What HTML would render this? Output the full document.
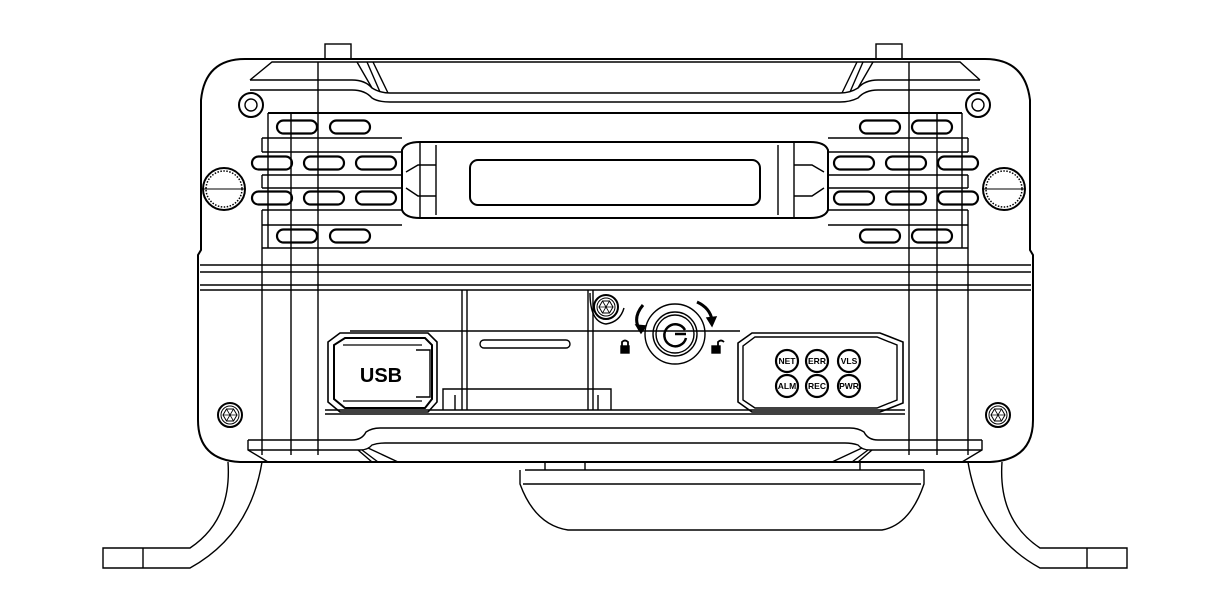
<!DOCTYPE html>
<html><head><meta charset="utf-8"><style>
html,body{margin:0;padding:0;background:#fff;}
svg{display:block}
text{font-family:"Liberation Sans",sans-serif;font-weight:bold;}
</style></head><body>
<svg width="1207" height="597" viewBox="0 0 1207 597" xmlns="http://www.w3.org/2000/svg">
<defs>
<g id="slot"><rect x="0" y="-6.5" width="40" height="13" rx="6.5" fill="none" stroke="#000" stroke-width="2.2"/></g>
<g id="screw"><circle r="12" fill="none" stroke="#000" stroke-width="2"/><circle r="9" fill="none" stroke="#000" stroke-width="1"/><polygon points="-7,0 -3.5,-6 3.5,-6 7,0 3.5,6 -3.5,6" fill="none" stroke="#000" stroke-width="1"/><path d="M-7,0H7M-3.5,-6L3.5,6M3.5,-6L-3.5,6" stroke="#000" stroke-width="0.8"/></g>
<g id="led"><circle r="11" fill="none" stroke="#000" stroke-width="2.2"/></g>
</defs>
<g fill="none" stroke="#000" stroke-width="1.4">
<!-- top tabs -->
<rect x="325" y="44" width="26" height="15"/>
<rect x="876" y="44" width="26" height="15"/>
<!-- outer body -->
<path d="M245,59 H985 Q1025,59 1030,100 L1030,250 L1033,255 V420 Q1033,460 990,462 H240 Q198,460 198,420 V255 L201,250 V100 Q205,59 245,59 Z" stroke-width="2"/>
<!-- top bevel -->
<path d="M250,80 L272,62 H960 L980,80"/>
<path d="M250,80 H352 Q365,80 372,88 Q380,93 390,93 H840 Q850,93 858,88 Q865,80 878,80 H980"/>
<path d="M250,90 H352 Q365,90 372,98 Q378,102 390,102 H840 Q850,102 858,98 Q865,90 878,90 H980"/>
<path d="M357,62 L372,88 M367,62 L380,92 M373,62 L388,93"/>
<path d="M873,62 L858,88 M863,62 L850,92 M857,62 L842,93"/>
<line x1="268" y1="113" x2="962" y2="113" stroke-width="2"/>
<!-- top screws -->
<circle cx="251" cy="105" r="12" stroke-width="2"/><circle cx="251" cy="105" r="6"/>
<circle cx="978" cy="105" r="12" stroke-width="2"/><circle cx="978" cy="105" r="6"/>
<!-- fin bands -->
<path d="M262,138 H402 M262,152 H402 M262,138 V152"/>
<path d="M262,175 H402 M262,188 H402 M262,175 V188"/>
<path d="M262,210 H402 M262,225 H402 M262,210 V225"/>
<path d="M828,138 H968 M828,152 H968 M968,138 V152"/>
<path d="M828,175 H968 M828,188 H968 M968,175 V188"/>
<path d="M828,210 H968 M828,225 H968 M968,210 V225"/>
<path d="M262,248 H968"/>
<!-- vertical guide lines -->
<path d="M268,113 V248 M291,113 V455 M318,62 V455 M909,62 V455 M937,113 V455 M962,113 V248"/>
<path d="M262,225 V455 M968,225 V455"/>
<!-- latch -->
<path d="M402,150 Q405,142 420,142 H810 Q825,142 828,150 V210 Q825,218 810,218 H420 Q405,218 402,210 Z" stroke-width="2"/>
<rect x="470" y="160" width="290" height="45" rx="8" stroke-width="2"/>
<path d="M420,142 V218 M436,145 V215 M794,142 V218 M778,145 V215"/>
<path d="M406,172 L418,165 H436 M406,188 L418,196 H436"/>
<path d="M824,172 L812,165 H794 M824,188 L812,196 H794"/>
<!-- horizontal bands -->
<path d="M200,265 H1031 M200,272 H1031" stroke-width="1.6"/>
<path d="M200,285 H1031 M200,290 H1031" stroke-width="1.6"/>
<!-- card slot frame -->
<path d="M462,290 V410 M467,290 V410 M588,290 V410 M593,290 V410"/>
<path d="M350,331 H740"/>
<rect x="480" y="340" width="90" height="8" rx="4"/>
<path d="M443,410 V389 H611 V410"/>
<path d="M455,410 V395 M598,410 V395"/>
<path d="M325,410 H905 M325,414 H905" stroke-width="1.6"/>
<!-- USB -->
<path d="M340,333 H428 L437,342 V402 L428,412 H340 L328,402 V342 Z" stroke-width="1.6"/>
<path d="M345,338 H425 L432,345 V399 L425,408 H345 L334,399 V345 Z" stroke-width="2"/>
<path d="M343,345 H422 M343,401 H422" stroke-width="1.2"/>
<path d="M416,350 H430 V397 H416"/>
<!-- key -->
<circle cx="675" cy="334" r="30" stroke-width="1.4"/>
<circle cx="675" cy="334" r="22" stroke-width="1.4"/>
<circle cx="675" cy="334" r="19" stroke-width="1.4"/>
<path d="M685,330 A11,11 0 1 0 686,338" stroke-width="2.5"/>
<path d="M675,334 H686" stroke-width="2.5"/>
<path d="M590,293 Q590,322 606,324 Q620,322 624,308"/>
<path d="M640,330 Q632,318 643,305" stroke-width="3"/><path d="M636,325 L641,333 L646,326 Z" fill="#000"/>
<path d="M697,302 Q710,308 712,320" stroke-width="3"/><path d="M707,318 L712,326 L716,317 Z" fill="#000"/>
<rect x="621" y="346" width="8" height="7" fill="#000"/><path d="M622,346 V342 Q625,339 628,342 V346" stroke-width="1.8"/>
<rect x="712" y="346" width="8" height="7" fill="#000"/><path d="M718,346 V342 Q721,339 724,342" stroke-width="1.8"/>
<!-- LED panel -->
<path d="M752,333 H880 L903,342 V403 L880,412 H752 L738,402 V343 Z" stroke-width="1.6"/>
<path d="M755,337 H877 L897,345 V400 L877,408 H755 L743,400 V346 Z"/>
<!-- bottom bevel -->
<path d="M248,440 H352 Q362,440 366,432 Q372,428 380,428 H850 Q858,428 864,432 Q868,440 878,440 H982"/>
<path d="M248,450 H360 Q368,450 372,445 Q378,443 385,443 H845 Q852,443 858,445 Q862,450 870,450 H982"/>
<path d="M248,440 V450 L268,462 M982,440 V450 L962,462"/>
<path d="M358,450 L372,462 M362,450 L378,462 M368,448 L398,462"/>
<path d="M872,450 L858,462 M868,450 L852,462 M862,448 L832,462"/>
<!-- bottom handle -->
<path d="M525,470 H924 M545,462 V470 M585,462 V470 M860,462 V470"/>
<path d="M520,470 V484 Q535,525 568,530 H882 Q910,525 924,484 V470"/>
<path d="M523,484 H921"/>
<!-- feet -->
<path d="M228,462 Q232,520 190,548 H103 V568 H190 Q250,535 262,462"/>
<path d="M143,548 V568"/>
<path d="M1002,462 Q998,520 1040,548 H1127 V568 H1040 Q980,535 968,462"/>
<path d="M1087,548 V568"/>
</g>
<!-- slots -->
<use href="#slot" x="277" y="127"/><use href="#slot" x="330" y="127"/>
<use href="#slot" x="860" y="127"/><use href="#slot" x="912" y="127"/>
<use href="#slot" x="252" y="163"/><use href="#slot" x="304" y="163"/><use href="#slot" x="356" y="163"/>
<use href="#slot" x="834" y="163"/><use href="#slot" x="886" y="163"/><use href="#slot" x="938" y="163"/>
<use href="#slot" x="252" y="198"/><use href="#slot" x="304" y="198"/><use href="#slot" x="356" y="198"/>
<use href="#slot" x="834" y="198"/><use href="#slot" x="886" y="198"/><use href="#slot" x="938" y="198"/>
<use href="#slot" x="277" y="236"/><use href="#slot" x="330" y="236"/>
<use href="#slot" x="860" y="236"/><use href="#slot" x="912" y="236"/>
<!-- knobs -->
<circle cx="224" cy="189" r="21" fill="none" stroke="#000" stroke-width="2"/><circle cx="224" cy="189" r="18" fill="none" stroke="#000" stroke-width="1.5" stroke-dasharray="1.5 1.5"/><line x1="204" y1="189" x2="244" y2="189" stroke="#000"/>
<circle cx="1004" cy="189" r="21" fill="none" stroke="#000" stroke-width="2"/><circle cx="1004" cy="189" r="18" fill="none" stroke="#000" stroke-width="1.5" stroke-dasharray="1.5 1.5"/><line x1="984" y1="189" x2="1024" y2="189" stroke="#000"/>
<!-- screws -->
<use href="#screw" x="606" y="307"/>
<use href="#screw" x="230" y="415"/>
<use href="#screw" x="998" y="415"/>
<!-- LEDs -->
<use href="#led" x="787" y="361"/><use href="#led" x="817" y="361"/><use href="#led" x="849" y="361"/>
<use href="#led" x="787" y="386"/><use href="#led" x="817" y="386"/><use href="#led" x="849" y="386"/>
<g font-size="8.5" text-anchor="middle">
<text x="787" y="364">NET</text><text x="817" y="364">ERR</text><text x="849" y="364">VLS</text>
<text x="787" y="389">ALM</text><text x="817" y="389">REC</text><text x="849" y="389">PWR</text>
</g>
<text x="381" y="382" font-size="20" text-anchor="middle" font-weight="bold">USB</text>
</svg>
</body></html>
